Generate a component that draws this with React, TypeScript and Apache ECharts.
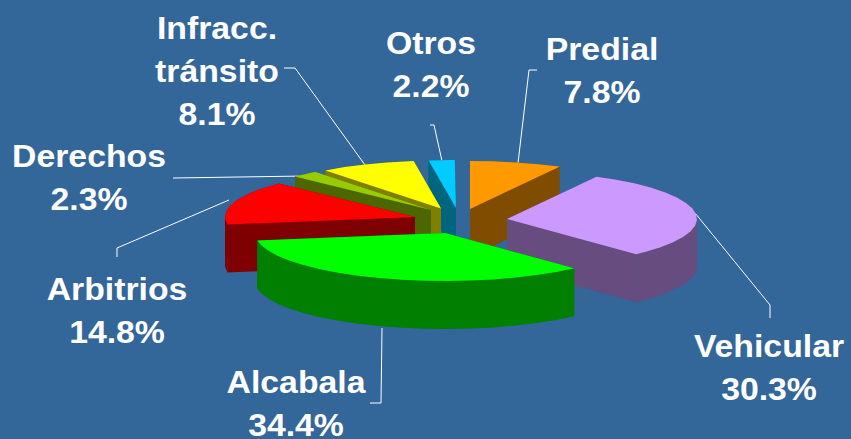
import React, { useEffect, useRef } from "react";
import * as echarts from "echarts";

// ---- data (clockwise from 12 o'clock) ----
const categories = ["Predial", "Vehicular", "Alcabala", "Arbitrios", "Derechos", "Infracc.\ntránsito", "Otros"];
const shares = [7.8, 30.3, 34.4, 14.8, 2.3, 8.1, 2.2];
const topColors = ["#FF9900", "#CC99FF", "#00FF00", "#FF0000", "#99CC00", "#FFFF00", "#00CCFF"];
const wallColors = ["#7F4C00", "#664C7F", "#007F00", "#7F0000", "#4C6600", "#7F7F00", "#00667F"];

// ---- layout ----
const RX = 190;
const RY = 48;
const DEPTH = 48;
const STEP = 7;
const apexes = [[470, 209], [507, 219], [445, 233], [415, 217], [431, 210], [441, 208.5], [456, 208]];
const labelCentres = [[602, 71], [769, 368], [296, 404], [117, 311], [89, 178], [217, 71], [431, 65]];
const leaders = [
  [[537, 70], [529, 70], [518, 163]],
  [[695, 213], [770, 305], [770, 318]],
  [[370, 403], [381, 403], [382, 328]],
  [[229, 200], [117, 248], [117, 257]],
  [[173, 178], [305, 176]],
  [[284, 68], [295, 68], [365, 165]],
  [[430, 125], [434, 125], [442, 161]],
];
const drawOrder = [6, 5, 4, 3, 0, 1, 2];

const startAngles = shares.map((_, i) => shares.slice(0, i).reduce((a, b) => a + b, 0) * 3.6);
const pt = (i: number, deg: number) => {
  const r = (deg * Math.PI) / 180;
  return [apexes[i][0] + RX * Math.sin(r), apexes[i][1] - RY * Math.cos(r)];
};
const down = (p: number[]) => [p[0], p[1] + DEPTH];
const sampleArc = (i: number, a0: number, a1: number) => {
  const pts: number[][] = [];
  for (let a = a0; a < a1; a += STEP) pts.push(pt(i, a));
  pts.push(pt(i, a1));
  return pts;
};

function renderSlice(params: any, api: any) {
  const i = drawOrder[params.dataIndex];
  const value = api.value(0) as number;
  const a0 = startAngles[i];
  const a1 = a0 + value * 3.6;
  const arc = sampleArc(i, a0, a1);
  const apex = apexes[i];
  const wall = (pts: number[][]) => ({
    type: "polygon",
    shape: { points: pts },
    style: { fill: wallColors[i] },
    silent: true,
  });
  const first = arc[0];
  const last = arc[arc.length - 1];
  // the rim wall is cut where the ellipse turns, so that no strip folds over itself
  const breaks = [a0, ...[90, 270].filter((b) => b > a0 && b < a1), a1];
  const rimWalls = [];
  for (let k = 0; k + 1 < breaks.length; k++) {
    const part = sampleArc(i, breaks[k], breaks[k + 1]);
    rimWalls.push(wall([...part, ...part.slice().reverse().map(down)]));
  }
  return {
    type: "group",
    children: [
      wall([apex, first, down(first), down(apex)]),
      wall([apex, last, down(last), down(apex)]),
      ...rimWalls,
      {
        type: "polygon",
        shape: { points: [apex, ...arc] },
        style: { fill: topColors[i] },
        silent: true,
      },
    ],
  };
}

function renderLabel(params: any, api: any) {
  const i = params.dataIndex;
  const value = api.value(0) as number;
  return {
    type: "group",
    children: [
      {
        type: "polyline",
        shape: { points: leaders[i] },
        style: { stroke: "#FFFFFF", lineWidth: 1, fill: "none" },
        silent: true,
      },
      {
        type: "text",
        x: labelCentres[i][0],
        y: labelCentres[i][1],
        scaleX: 1.09,
        silent: true,
        style: {
          text: `${categories[i]}\n${value.toFixed(1)}%`,
          fontFamily: "Liberation Sans",
          fontWeight: "bold",
          fontSize: 31,
          lineHeight: 43,
          fill: "#FFFFFF",
          align: "center",
          verticalAlign: "middle",
        },
      },
    ],
  };
}

export default function App() {
  const ref = useRef<HTMLDivElement>(null);
  useEffect(() => {
    document.body.style.margin = "0";
    const chart = echarts.init(ref.current!, undefined, { renderer: "svg" });
    chart.setOption({
      animation: false,
      backgroundColor: "#336699",
      series: [
        {
          type: "custom",
          coordinateSystem: "none",
          clip: false,
          renderItem: renderLabel,
          data: shares.map((v) => [v]),
          z: 1,
          silent: true,
        },
        {
          type: "custom",
          coordinateSystem: "none",
          clip: false,
          renderItem: renderSlice,
          data: drawOrder.map((i) => [shares[i]]),
          z: 2,
          silent: true,
        },
      ],
    });
    return () => chart.dispose();
  }, []);
  return <div ref={ref} style={{ width: 851, height: 439 }} />;
}
